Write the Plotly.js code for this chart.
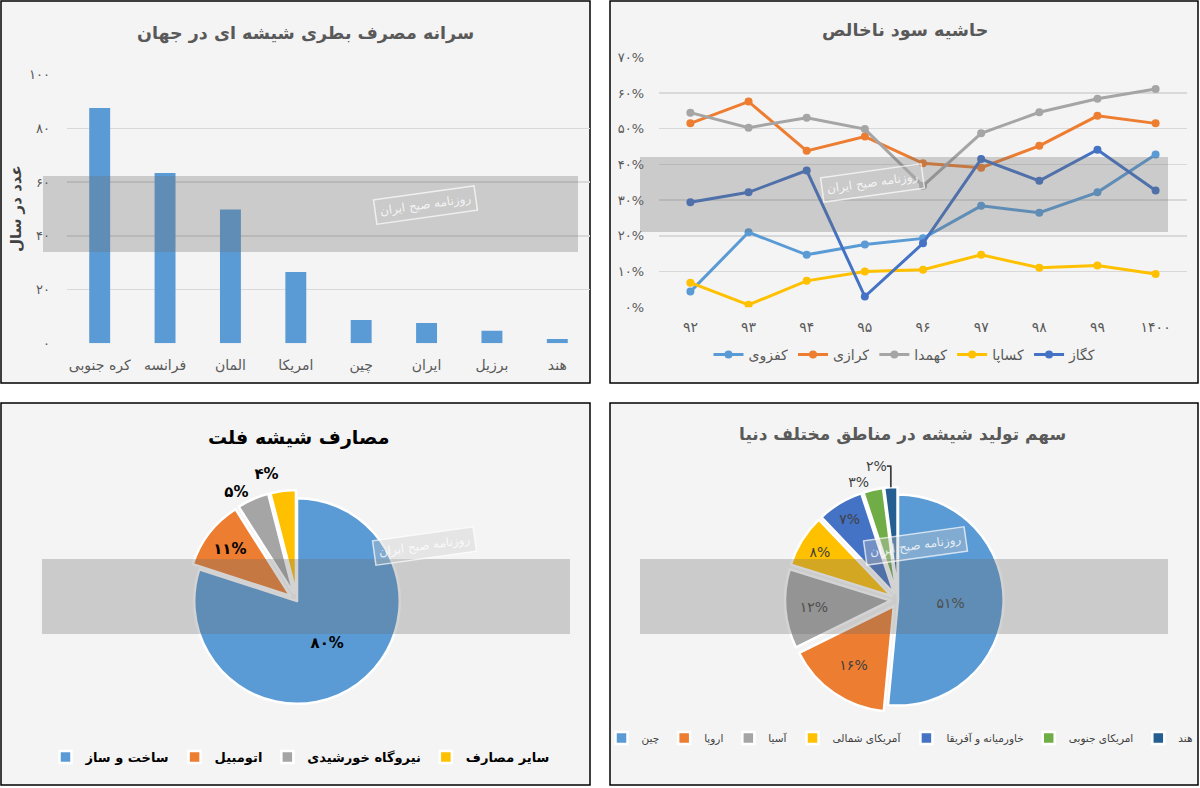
<!DOCTYPE html>
<html><head><meta charset="utf-8">
<script src="https://cdn.plot.ly/plotly-3.0.1.min.js"></script>
<style>html,body{margin:0;padding:0;background:#fff;}#chart{width:1200px;height:788px;}
.pielayer .trace:first-child path.textline{display:none;}</style>
</head><body><div id="chart"></div>
<script>
// ---------- data ----------
const bottleCountries = ['کره جنوبی','فرانسه','المان','امریکا','چین','ایران','برزیل','هند'];
const bottleUse = [87.6, 63.4, 49.8, 26.6, 8.7, 7.6, 4.7, 1.6];
const bottleTicks = [0, 20, 40, 60, 80, 100];

const years = ['۹۲','۹۳','۹۴','۹۵','۹۶','۹۷','۹۸','۹۹','۱۴۰۰'];
const marginTicks = [0, 10, 20, 30, 40, 50, 60, 70];
const companies = ['کفزوی','کرازی','کهمدا','کساپا','کگاز'];
const kafzavi = [4.4, 21.0, 14.7, 17.6, 19.3, 28.4, 26.5, 32.2, 42.8];
const karazi  = [51.5, 57.6, 43.8, 47.8, 40.3, 39.1, 45.2, 53.6, 51.5];
const kahamda = [54.5, 50.3, 53.1, 49.9, 34.0, 48.7, 54.6, 58.4, 61.1];
const kasapa  = [6.9, 0.7, 7.4, 10.0, 10.5, 14.7, 11.1, 11.7, 9.3];
const kegaz   = [29.4, 32.2, 38.3, 3.0, 17.9, 41.5, 35.4, 44.1, 32.7];

const flatUses = ['ساخت و ساز','اتومبیل','نیروگاه خورشیدی','سایر مصارف'];
const flatShare = [80, 11, 5, 4];

const regions = ['چین','اروپا','آسیا','آمریکای شمالی','خاورمیانه و آفریقا','امریکای جنوبی','هند'];
const regionShare = [51, 16, 12, 8, 7, 3, 2];

// ---------- helpers ----------
const W = 1200, H = 788;
const px = x => x / W, py = y => 1 - y / H;
const FA = 'DejaVu Sans, sans-serif';
const toFa = s => String(s).replace(/\d/g, d => '۰۱۲۳۴۵۶۷۸۹'[d]);
const C = {blue:'#5b9bd5', orange:'#ed7d31', gray:'#a5a5a5', gold:'#ffc000', blue2:'#4472c4', green:'#70ad47', navy:'#255e91'};

const traces = [];
traces.push({type:'bar', x:bottleCountries, y:bottleUse, xaxis:'x', yaxis:'y',
  marker:{color:C.blue}, showlegend:false, hoverinfo:'skip'});

const series = [kafzavi, karazi, kahamda, kasapa, kegaz];
const lineColors = [C.blue, C.orange, C.gray, C.gold, C.blue2];
series.forEach((s, i) => traces.push({type:'scatter', mode:'lines+markers', x:years, y:s,
  name:companies[i], xaxis:'x2', yaxis:'y2', legend:'legend',
  line:{color:lineColors[i], width:3}, marker:{color:lineColors[i], size:8}, hoverinfo:'skip'}));

const pct = v => toFa(v) + '%';
traces.push({type:'pie', labels:flatUses, values:flatShare, text:flatShare.map(pct), textinfo:'text',
  sort:false, direction:'clockwise', rotation:0, pull:[0,0.08,0.08,0.08],
  textposition:['inside','inside','outside','outside'], insidetextorientation:'horizontal',
  textfont:{family:FA, size:15, color:'#000', weight:'bold'},
  marker:{colors:[C.blue,C.orange,C.gray,C.gold], line:{color:'#ffffff', width:2.5}},
  domain:{x:[px(297-111), px(297+111)], y:[py(601+111), py(601-111)]},
  legend:'legend2', hoverinfo:'skip'});

traces.push({type:'pie', labels:regions, values:regionShare, text:regionShare.map(pct), textinfo:'text',
  sort:false, direction:'clockwise', rotation:0, pull:[0,0.07,0.07,0.07,0.07,0.07,0.07],
  textposition:['inside','inside','inside','inside','inside','outside','outside'], insidetextorientation:'horizontal',
  textfont:{family:FA, size:14, color:'#404040'},
  marker:{colors:[C.blue,C.orange,C.gray,C.gold,C.blue2,C.green,C.navy], line:{color:'#ffffff', width:2.5}},
  domain:{x:[px(898-113), px(898+113)], y:[py(600+113), py(600-113)]},
  legend:'legend3', hoverinfo:'skip'});

// panels
const panels = [[1,1,590,383],[610,1,1198,383],[1,403,590,785],[610,403,1198,785]];
const shapes = panels.map(p => ({type:'rect', xref:'paper', yref:'paper', layer:'below',
  x0:px(p[0]), x1:px(p[2]), y0:py(p[3]), y1:py(p[1]), fillcolor:'#f4f4f4', line:{color:'#000', width:1.5}}));
const bands = [[43,176,578,252],[640,157,1168,232],[42,559,570,634],[640,559,1168,634]];
bands.forEach(b => shapes.push({type:'rect', xref:'paper', yref:'paper', layer:'above',
  x0:px(b[0]), x1:px(b[2]), y0:py(b[3]), y1:py(b[1]), fillcolor:'rgba(110,110,110,0.3)', line:{width:0}}));

const titleAnn = (t, x, y, size, color, weight) => ({text:t, x:px(x), y:py(y), xref:'paper', yref:'paper',
  showarrow:false, xanchor:'center', yanchor:'middle', font:{family:FA, size:size, color:color, weight:weight}});
const annotations = [
  titleAnn('سرانه مصرف بطری شیشه ای در جهان', 305, 33, 17.5, '#595959', 'bold'),
  titleAnn('حاشیه سود ناخالص', 905, 30, 17.5, '#595959', 'bold'),
  titleAnn('مصارف شیشه فلت', 298, 438, 19, '#000000', 'bold'),
  titleAnn('سهم تولید شیشه در مناطق مختلف دنیا', 902, 435, 17, '#595959', 'bold'),
  Object.assign(titleAnn('عدد در سال', 16, 209, 15, '#404040', 'bold'), {textangle:-90})
];
[[373,185],[925,163],[372,566],[968,566]].forEach(p => annotations.push({text:'روزنامه صبح ایران',
  x:px(p[0]), y:py(p[1]), xref:'paper', yref:'paper', showarrow:false, textangle:-8,
  font:{family:FA, size:12, color:'rgba(255,255,255,0.8)'}, bordercolor:'rgba(255,255,255,0.7)', borderwidth:1.5,
  borderpad:4, bgcolor:'rgba(200,200,200,0.35)'}));

const layout = {
  width:W, height:H, margin:{l:0,r:0,t:0,b:0,pad:0,autoexpand:false}, paper_bgcolor:'#ffffff', plot_bgcolor:'rgba(0,0,0,0)',
  font:{family:FA, color:'#595959'}, hovermode:false, bargap:0.68,
  xaxis:{domain:[px(67), px(590)], anchor:'y', type:'category', showgrid:false, zeroline:false, showline:false,
    ticks:'', tickfont:{family:FA, size:14, color:'#595959'}, ticklabelstandoff:12, fixedrange:true, automargin:false},
  yaxis:{domain:[py(343.3), py(74.8)], anchor:'x', range:[0,100], tickvals:bottleTicks, ticktext:bottleTicks.map(toFa),
    gridcolor:'#d9d9d9', gridwidth:1.5, zeroline:false, showline:false, ticks:'',
    tickfont:{family:FA, size:13, color:'#595959'}, ticklabelstandoff:16, fixedrange:true, automargin:false},
  xaxis2:{domain:[px(659), px(1187)], anchor:'y2', type:'category', showgrid:false, zeroline:false, showline:false,
    ticks:'', tickfont:{family:FA, size:14, color:'#595959'}, ticklabelstandoff:10, fixedrange:true, automargin:false},
  yaxis2:{domain:[py(307.3), py(57.3)], anchor:'x2', range:[0,70], tickvals:marginTicks, ticktext:marginTicks.map(pct),
    gridcolor:'#d9d9d9', gridwidth:1.5, zeroline:false, showline:false, ticks:'',
    tickfont:{family:FA, size:13, color:'#595959'}, ticklabelstandoff:14, fixedrange:true, automargin:false},
  legend:{orientation:'h', x:px(905), xanchor:'center', y:py(355), yanchor:'middle', bgcolor:'rgba(0,0,0,0)',
    font:{family:FA, size:14, color:'#595959'}},
  legend2:{orientation:'h', x:px(300), xanchor:'center', y:py(757), yanchor:'middle', bgcolor:'rgba(0,0,0,0)',
    font:{family:FA, size:13, color:'#000', weight:'bold'}},
  legend3:{orientation:'h', x:px(900), xanchor:'center', y:py(738), yanchor:'middle', bgcolor:'rgba(0,0,0,0)',
    font:{family:FA, size:10.5, color:'#404040'}},
  shapes:shapes, annotations:annotations
};
Plotly.newPlot('chart', traces, layout, {staticPlot:true, displayModeBar:false});
</script></body></html>
